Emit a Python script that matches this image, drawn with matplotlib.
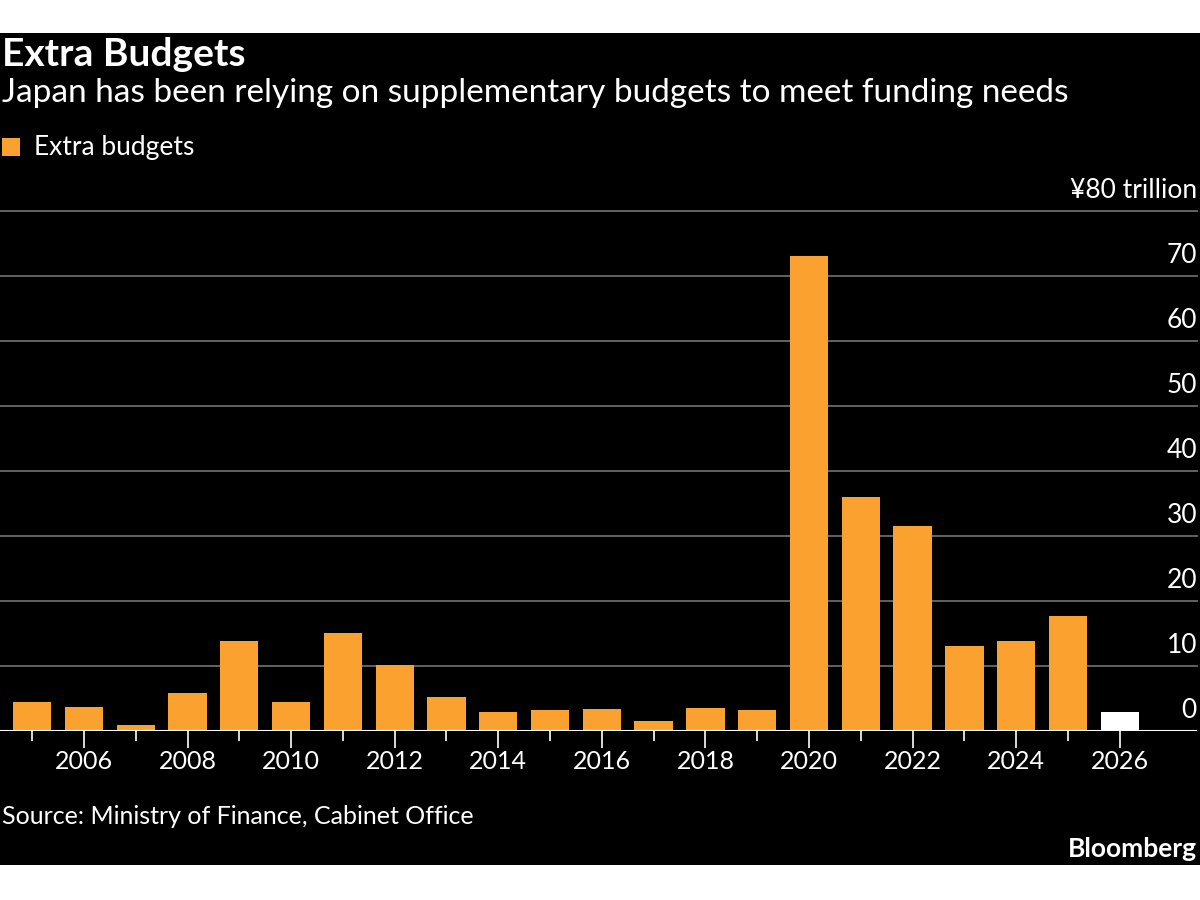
import matplotlib
matplotlib.use('Agg')
import matplotlib.pyplot as plt
import matplotlib.transforms as mtransforms
from matplotlib.patches import Rectangle

plt.rcParams['font.family'] = ['Lato', 'DejaVu Sans']

# data (yen trillion)
years = list(range(2005, 2027))
extra = [4.4, 3.7, 0.9, 5.8, 13.9, 4.4, 15.1, 10.1, 5.3, 3.0, 3.2, 3.4,
         1.6, 3.6, 3.2, 73.1, 36.0, 31.6, 13.1, 13.9, 17.7, 3.0]
yticks = [0, 10, 20, 30, 40, 50, 60, 70, 80]
ytick_labels = ['0', '10', '20', '30', '40', '50', '60', '70', '¥80 trillion']
xticks_major = list(range(2006, 2027, 2))

orange = '#fba12f'
bar_colors = [orange] * (len(years) - 1) + ['white']

fig = plt.figure(figsize=(12, 9), dpi=100, facecolor='white')
# black panel behind everything
fig.patches.append(Rectangle((0, 35/900), 1, 832/900, transform=fig.transFigure,
                             facecolor='black', edgecolor='none', zorder=-10))

ax = fig.add_axes([0, 1 - 731/900, 1197/1200, 520/900])
ax.set_facecolor('none')
ax.bar(years, extra, width=0.74, color=bar_colors, zorder=2)
ax.set_xlim(2004.38, 2027.49)
ax.set_ylim(0, 80)

for s in ax.spines.values():
    s.set_visible(False)
ax.axhline(0, color='white', lw=1.5, zorder=3)
for y in yticks[1:]:
    ax.axhline(y, color='#6a6a6a', lw=1.3, zorder=1, clip_on=False)

trans = mtransforms.blended_transform_factory(ax.transAxes, ax.transData)
for y, lab in zip(yticks, ytick_labels):
    ax.text(1.0, y + 1.2, lab, transform=trans, ha='right', va='bottom',
            color='white', fontsize=19)

ax.set_yticks([])
ax.set_xticks(xticks_major)
ax.set_xticks(years, minor=True)
ax.tick_params(axis='x', which='major', length=12, width=1.2, color='white',
               labelcolor='white', labelsize=18, pad=2)
ax.tick_params(axis='x', which='minor', length=7, width=1.2, color='white')

fig.text(0.002, 1 - 55/900, 'Extra Budgets', color='white', fontsize=28,
         fontweight='bold', va='center', ha='left')
fig.text(0.002, 1 - 93/900, 'Japan has been relying on supplementary budgets to meet funding needs',
         color='white', fontsize=24, va='center', ha='left')
fig.patches.append(Rectangle((2/1200, 1 - 156/900), 18/1200, 18/900,
                             transform=fig.transFigure, facecolor=orange,
                             edgecolor='none'))
fig.text(34/1200, 1 - 147/900, 'Extra budgets', color='white', fontsize=19,
         va='center', ha='left')
fig.text(0.002, 1 - 817/900, 'Source: Ministry of Finance, Cabinet Office',
         color='white', fontsize=18, va='center', ha='left')
fig.text(1197/1200, 1 - 849/900, 'Bloomberg', color='white', fontsize=19,
         fontweight='bold', va='center', ha='right')

fig.savefig('out.png', dpi=100, facecolor='white')
